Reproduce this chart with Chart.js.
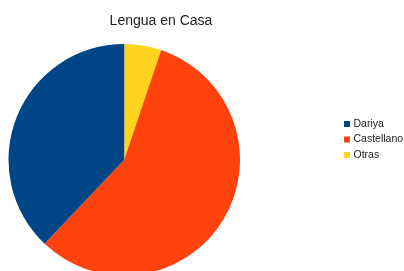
<!DOCTYPE html>
<html>
<head>
<meta charset="utf-8">
<title>Lengua en Casa</title>
<script src="https://cdn.jsdelivr.net/npm/chart.js@4"></script>
<style>
  html, body { margin: 0; padding: 0; background: #fff; overflow: hidden; }
  #wrap { width: 404px; height: 290px; }
</style>
</head>
<body>
<div id="wrap"><canvas id="pieChart" width="404" height="290"></canvas></div>
<script>
// Chart data
const categories = ["Dariya", "Castellano", "Otras"]
const values = [22, 33, 3]
const colors = ["#004586", "#ff420e", "#ffd320"]
const chartTitle = "Lengua en Casa"

// The original goes counter-clockwise from the top, Chart.js goes clockwise,
// so the slices are handed over in reverse order
const drawOrder = categories.map((_, i) => categories.length - 1 - i)

const FONT = "'Liberation Sans', Arial, sans-serif"

// Title and legend placed like the original (not centred on the canvas)
const sideLabels = {
  id: "sideLabels",
  afterDraw(chart) {
    const ctx = chart.ctx
    ctx.save()
    ctx.textBaseline = "middle"

    ctx.fillStyle = "#222"
    ctx.textAlign = "center"
    ctx.font = "14px " + FONT
    ctx.fillText(chartTitle, 161, 21)

    ctx.textAlign = "left"
    ctx.font = "10.5px " + FONT
    categories.forEach((name, i) => {
      const y = 124 + i * 15.5
      ctx.fillStyle = colors[i]
      ctx.fillRect(344, y - 3, 6, 6)
      ctx.fillStyle = "#222"
      ctx.fillText(name, 353.5, y)
    })
    ctx.restore()
  },
}

document.addEventListener("DOMContentLoaded", () => {
  const ctx = document.getElementById("pieChart")
  new Chart(ctx, {
    type: "pie",
    data: {
      labels: drawOrder.map((i) => categories[i]),
      datasets: [
        {
          data: drawOrder.map((i) => values[i]),
          backgroundColor: drawOrder.map((i) => colors[i]),
          borderWidth: 0,
        },
      ],
    },
    options: {
      responsive: false,
      animation: false,
      events: [],
      layout: {
        padding: { left: 8.5, top: 44, right: 164, bottom: 14.5 },
      },
      plugins: {
        legend: { display: false },
        title: { display: false },
        tooltip: { enabled: false },
      },
    },
    plugins: [sideLabels],
  })
})
</script>
</body>
</html>
